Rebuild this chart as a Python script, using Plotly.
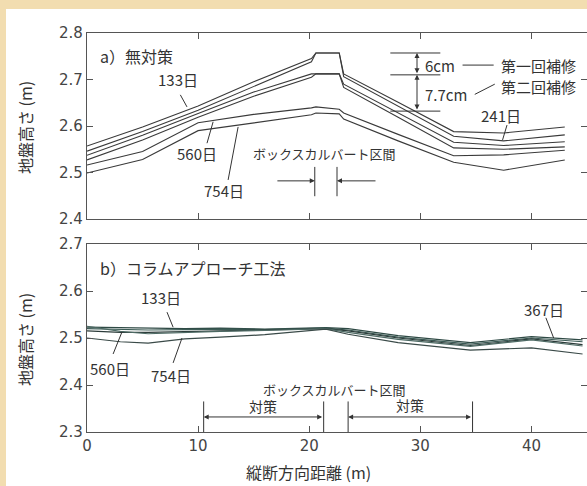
import plotly.graph_objects as go

# ---------------- data ----------------
# a) 無対策
xa = [0, 5, 10, 15, 20.2, 20.6, 22.7, 23.1, 28, 33, 37.5, 43]
a_L1 = [2.557, 2.598, 2.643, 2.695, 2.745, 2.757, 2.757, 2.712, 2.651, 2.588, 2.585, 2.598]
a_L2 = [2.546, 2.588, 2.634, 2.685, 2.738, 2.757, 2.757, 2.706, 2.642, 2.578, 2.568, 2.581]
a_L3 = [2.537, 2.580, 2.627, 2.673, 2.712, 2.712, 2.712, 2.690, 2.628, 2.565, 2.558, 2.566]
a_L4 = [2.527, 2.570, 2.619, 2.664, 2.705, 2.712, 2.712, 2.683, 2.619, 2.553, 2.550, 2.555]
a_L5 = [2.516, 2.545, 2.607, 2.625, 2.639, 2.641, 2.636, 2.628, 2.582, 2.536, 2.538, 2.548]
a_L6 = [2.499, 2.528, 2.590, 2.607, 2.624, 2.628, 2.626, 2.615, 2.568, 2.522, 2.505, 2.527]
a_lines = [a_L1, a_L2, a_L3, a_L4, a_L5, a_L6]

# b) コラムアプローチ工法
xb = [0, 3, 5.5, 8.8, 12, 16, 21.5, 23.5, 28, 34.5, 40, 44.6]
b_L1 = [2.523, 2.522, 2.521, 2.520, 2.521, 2.519, 2.522, 2.520, 2.505, 2.490, 2.503, 2.496]
b_L2 = [2.520, 2.518, 2.517, 2.518, 2.519, 2.518, 2.521, 2.517, 2.502, 2.487, 2.500, 2.492]
b_L3 = [2.515, 2.512, 2.512, 2.514, 2.516, 2.517, 2.520, 2.515, 2.500, 2.484, 2.498, 2.486]
b_L4 = [2.525, 2.514, 2.509, 2.512, 2.514, 2.516, 2.520, 2.512, 2.497, 2.482, 2.496, 2.483]
b_L5 = [2.500, 2.492, 2.489, 2.498, 2.502, 2.507, 2.519, 2.508, 2.490, 2.474, 2.479, 2.466]
b_lines = [b_L1, b_L2, b_L3, b_L4, b_L5]

x_ticks = [0, 10, 20, 30, 40]
ya_ticks = [2.4, 2.5, 2.6, 2.7, 2.8]
yb_ticks = [2.3, 2.4, 2.5, 2.6, 2.7]

# ---------------- figure ----------------
W, H = 587, 486
L = 87
PW = W - L
def px(xp):
    return (xp - L) / PW
def py(yp):
    return 1 - yp / H

TXT = "#333333"
AX = "#555555"
JP = "Noto Sans CJK JP"
NUM = "DejaVu Sans"

fig = go.Figure()
for ys in a_lines:
    fig.add_trace(go.Scatter(x=xa, y=ys, mode="lines", xaxis="x", yaxis="y",
                             line=dict(color="#3a3a3a", width=1.1), showlegend=False, hoverinfo="skip"))
b_cols = ["#2f4a45", "#3b5b55", "#2c3c3a", "#4d6a64", "#3a4a48"]
for ys, c in zip(b_lines, b_cols):
    fig.add_trace(go.Scatter(x=xb, y=ys, mode="lines", xaxis="x2", yaxis="y2",
                             line=dict(color=c, width=1.2), showlegend=False, hoverinfo="skip"))

axis_common = dict(showline=True, linecolor=AX, linewidth=1.2, mirror="ticks", ticks="inside",
                   ticklen=6, tickcolor=AX, tickwidth=1.2, showgrid=False, zeroline=False,
                   tickfont=dict(family=NUM, size=15, color="#444444"))

fig.update_layout(
    width=W, height=H,
    margin=dict(l=L, r=0, t=0, b=0, autoexpand=False),
    paper_bgcolor="#f2ddb0", plot_bgcolor="rgba(0,0,0,0)",
    xaxis=dict(domain=[0, 1], range=[0, 45], tickvals=x_ticks, showticklabels=False,
               anchor="y", **axis_common),
    yaxis=dict(domain=[py(219), py(33)], range=[2.4, 2.8], tickvals=ya_ticks,
               ticktext=[f"{v:.1f}" for v in ya_ticks], anchor="x", **axis_common),
    xaxis2=dict(domain=[0, 1], range=[0, 45], tickvals=x_ticks, showticklabels=True,
                anchor="y2", **axis_common),
    yaxis2=dict(domain=[py(432), py(244)], range=[2.3, 2.7], tickvals=yb_ticks,
                ticktext=[f"{v:.1f}" for v in yb_ticks], anchor="x2", **axis_common),
)

shapes = []
# white panel background
shapes.append(dict(type="rect", xref="paper", yref="paper", x0=px(6), x1=px(600), y0=py(490), y1=py(9),
                   fillcolor="white", line=dict(width=0), layer="below"))

def seg(x0, y0, x1, y1, xr="x", yr="y", w=1):
    shapes.append(dict(type="line", xref=xr, yref=yr, x0=x0, y0=y0, x1=x1, y1=y1,
                       line=dict(color="#333333", width=w)))

# --- panel a pointers ---
seg(8.4, 2.667, 9.0, 2.641)           # 133日
seg(10.8, 2.563, 11.35, 2.609)        # 560日
seg(12.7, 2.484, 13.6, 2.598)         # 754日
seg(37.8, 2.602, 37.4, 2.570)         # 241日
# box culvert bars
seg(20.5, 2.512, 20.5, 2.449)
seg(22.5, 2.512, 22.5, 2.449)
# repair reference lines
for yv in [2.757, 2.710, 2.632]:
    seg(27.3, yv, 31.8, yv)
seg(33.8, 2.731, 36.6, 2.731)         # 6cm leader
seg(34.9, 2.668, 36.7, 2.690)         # 7.7cm leader

# --- panel b pointers ---
seg(7.2, 2.555, 7.75, 2.523, "x2", "y2")   # 133日
seg(2.35, 2.466, 3.15, 2.513, "x2", "y2")  # 560日
seg(7.75, 2.447, 8.55, 2.500, "x2", "y2")  # 754日
seg(41.3, 2.543, 42.0, 2.500, "x2", "y2")  # 367日
for xv in [10.5, 21.3, 23.5, 34.7]:
    seg(xv, 2.365, xv, 2.30, "x2", "y2")

fig.update_layout(shapes=shapes)

ann = []
def text(x, y, s, size=15, xr="x", yr="y", xanchor="center", family=JP, angle=0):
    ann.append(dict(x=x, y=y, xref=xr, yref=yr, text=s, showarrow=False, xanchor=xanchor,
                    yanchor="middle", textangle=angle,
                    font=dict(family=family, size=size, color=TXT)))

def arrow(x, y, axv, ayv, xr="x", yr="y", side="end"):
    ann.append(dict(x=x, y=y, ax=axv, ay=ayv, xref=xr, yref=yr, axref=xr, ayref=yr, text="",
                    showarrow=True, arrowhead=2, startarrowhead=2, arrowside=side,
                    arrowsize=1, arrowwidth=1, arrowcolor="#333333"))

# panel a texts
text(1.0, 2.750, "a）無対策", 16, xanchor="left")
text(8.2, 2.700, "133日", 15)
text(9.9, 2.540, "560日", 15)
text(12.3, 2.462, "754日", 15)
text(37.3, 2.622, "241日", 15)
text(21.4, 2.540, "ボックスカルバート区間", 13)
text(30.2, 2.731, "6cm", 15, xanchor="left")
text(30.2, 2.667, "7.7cm", 15, xanchor="left")
text(40.6, 2.731, "第一回補修", 15)
text(40.6, 2.684, "第二回補修", 15)
# culvert arrows
arrow(20.5, 2.482, 17.0, 2.482)
arrow(22.5, 2.482, 26.1, 2.482)
# repair arrows
arrow(29.7, 2.757, 29.7, 2.710, side="end+start")
arrow(29.7, 2.710, 29.7, 2.632, side="end+start")

# panel b texts
text(1.0, 2.649, "b）コラムアプローチ工法", 16, "x2", "y2", xanchor="left")
text(6.7, 2.587, "133日", 15, "x2", "y2")
text(2.1, 2.436, "560日", 15, "x2", "y2")
text(7.6, 2.421, "754日", 15, "x2", "y2")
text(41.1, 2.560, "367日", 15, "x2", "y2")
text(22.3, 2.391, "ボックスカルバート区間", 13, "x2", "y2")
text(15.8, 2.355, "対策", 14, "x2", "y2")
text(29.1, 2.357, "対策", 14, "x2", "y2")
arrow(10.5, 2.332, 21.3, 2.332, "x2", "y2", side="end+start")
arrow(23.5, 2.332, 34.7, 2.332, "x2", "y2", side="end+start")

# axis titles
text(px(25), py(128), "地盤高さ (m)", 16, "paper", "paper", angle=-90)
text(px(25), py(340), "地盤高さ (m)", 16, "paper", "paper", angle=-90)
text(px(308), py(472), "縦断方向距離 (m)", 16, "paper", "paper")

fig.update_layout(annotations=ann)
fig.write_html("out.html", config={"displayModeBar": False},
               post_script="document.body.style.margin='0';document.body.style.overflow='hidden';")
